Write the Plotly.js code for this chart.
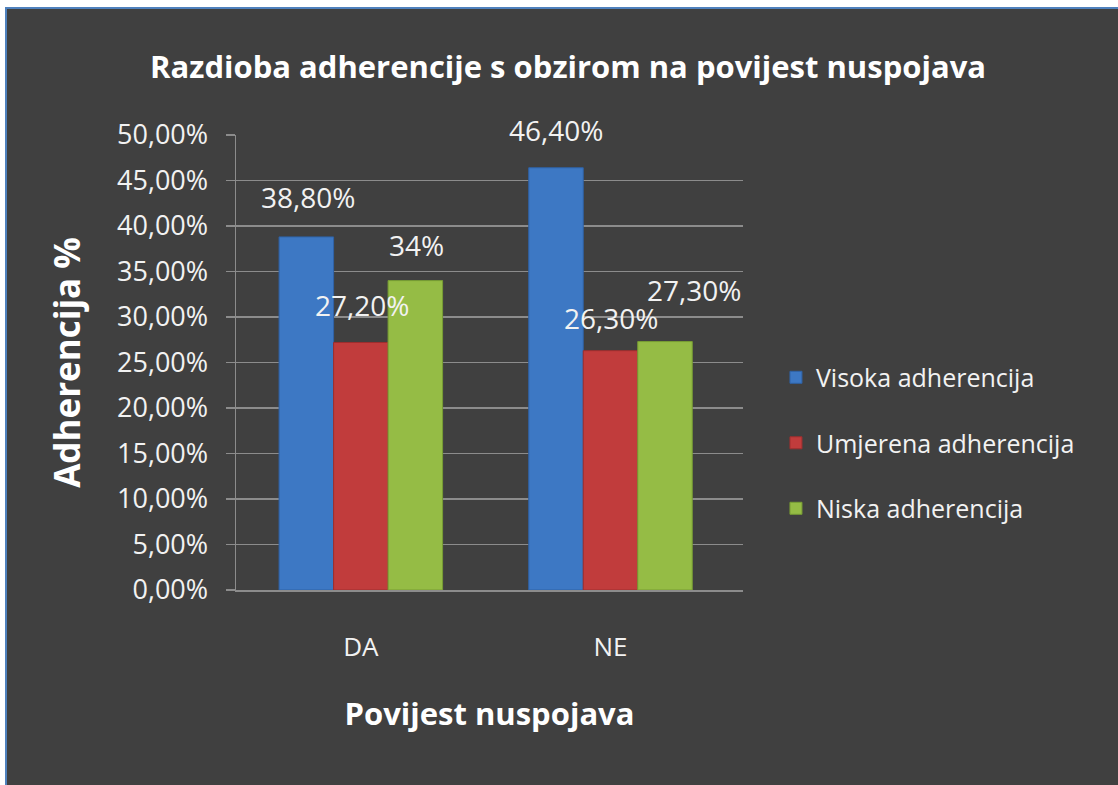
<!DOCTYPE html>
<html>
<head>
<meta charset="utf-8">
<script src="https://cdn.plot.ly/plotly-3.0.1.min.js"></script>
<style>
  html, body { margin: 0; padding: 0; background: #ffffff; }
  #wrap { position: absolute; left: 5px; top: 7px; border-top: 2px solid #4f81bd; border-left: 2px solid #4f81bd; }
  #chart { width: 1111px; height: 776px; }
</style>
</head>
<body>
<div id="wrap"><div id="chart"></div></div>
<script>
// ---- data ----
const categories = ["DA", "NE"];
const seriesNames = ["Visoka adherencija", "Umjerena adherencija", "Niska adherencija"];
const visoka = [38.8, 46.4];
const umjerena = [27.2, 26.3];
const niska = [34, 27.3];
const labelsVisoka = ["38,80%", "46,40%"];
const labelsUmjerena = ["27,20%", "26,30%"];
const labelsNiska = ["34%", "27,30%"];
const yTickVals = [0, 5, 10, 15, 20, 25, 30, 35, 40, 45, 50];
const yTickText = ["0,00%", "5,00%", "10,00%", "15,00%", "20,00%", "25,00%", "30,00%", "35,00%", "40,00%", "45,00%", "50,00%"];

// ---- styles ----
const FONT = "'Open Sans', sans-serif";
const colors = ["#3d78c4", "#c13c3c", "#95bc45"];
const lineColors = ["#2f62a6", "#9e2e2e", "#779d33"];
const bargap = 0.345;
const values = [visoka, umjerena, niska];
const labels = [labelsVisoka, labelsUmjerena, labelsNiska];
// label shifts in px [series][category] -> [xshift, yshift]
const shifts = [
  [[2, 40], [0, 38]],
  [[1, 37], [1, 33]],
  [[1, 36], [29, 52]]
];

const traces = seriesNames.map((n, i) => ({
  type: "bar",
  name: n,
  x: categories,
  y: values[i],
  legendgroup: "g" + i,
  marker: { color: colors[i], line: { color: lineColors[i], width: 1 } },
  hoverinfo: "skip"
}));

const barW = (1 - bargap) / 3;
const annotations = [];
values.forEach((vals, i) => {
  vals.forEach((v, j) => {
    annotations.push({
      xref: "x", yref: "y",
      x: j + (i - 1) * barW,
      y: v,
      text: labels[i][j],
      showarrow: false,
      xanchor: "center", yanchor: "middle",
      xshift: shifts[i][j][0], yshift: shifts[i][j][1],
      font: { family: FONT, size: 28, color: "#f2f2f2" }
    });
  });
});

const layout = {
  width: 1111, height: 776,
  paper_bgcolor: "#404040",
  plot_bgcolor: "#404040",
  margin: { l: 229, r: 375, t: 126, b: 195 },
  bargap: bargap,
  bargroupgap: 0,
  title: {
    text: "<b>Razdioba adherencije s obzirom na povijest nuspojava</b>",
    font: { family: FONT, size: 31, color: "#ffffff" },
    x: 0.505, xanchor: "center",
    y: 0.925, yanchor: "middle"
  },
  xaxis: {
    type: "category",
    showgrid: false,
    showline: true, linecolor: "#8c8c8c", linewidth: 1.5,
    ticks: "", ticklabelstandoff: 33,
    tickfont: { family: FONT, size: 26, color: "#f2f2f2" },
    title: { text: "<b>Povijest nuspojava</b>", font: { family: FONT, size: 31, color: "#ffffff" }, standoff: 40 },
    fixedrange: true
  },
  yaxis: {
    range: [0, 50],
    tickvals: yTickVals, ticktext: yTickText,
    showgrid: true, gridcolor: "#8c8c8c", gridwidth: 1.5,
    showline: true, linecolor: "#8c8c8c", linewidth: 1.5,
    ticks: "outside", ticklen: 9, tickcolor: "#8c8c8c", tickwidth: 1.5,
    ticklabelstandoff: 12,
    tickfont: { family: FONT, size: 27, color: "#f2f2f2" },
    title: { text: "<b>Adherencija %</b>", font: { family: FONT, size: 35, color: "#ffffff" }, standoff: 26 },
    zeroline: false,
    fixedrange: true
  },
  legend: {
    x: 1.065, xanchor: "left",
    y: 0.323, yanchor: "middle",
    font: { family: FONT, size: 25, color: "#f2f2f2" },
    tracegroupgap: 30,
    bgcolor: "rgba(0,0,0,0)",
    itemwidth: 30
  },
  annotations: annotations,
  showlegend: true
};

Plotly.newPlot("chart", traces, layout, { displayModeBar: false, staticPlot: true });
</script>
</body>
</html>
